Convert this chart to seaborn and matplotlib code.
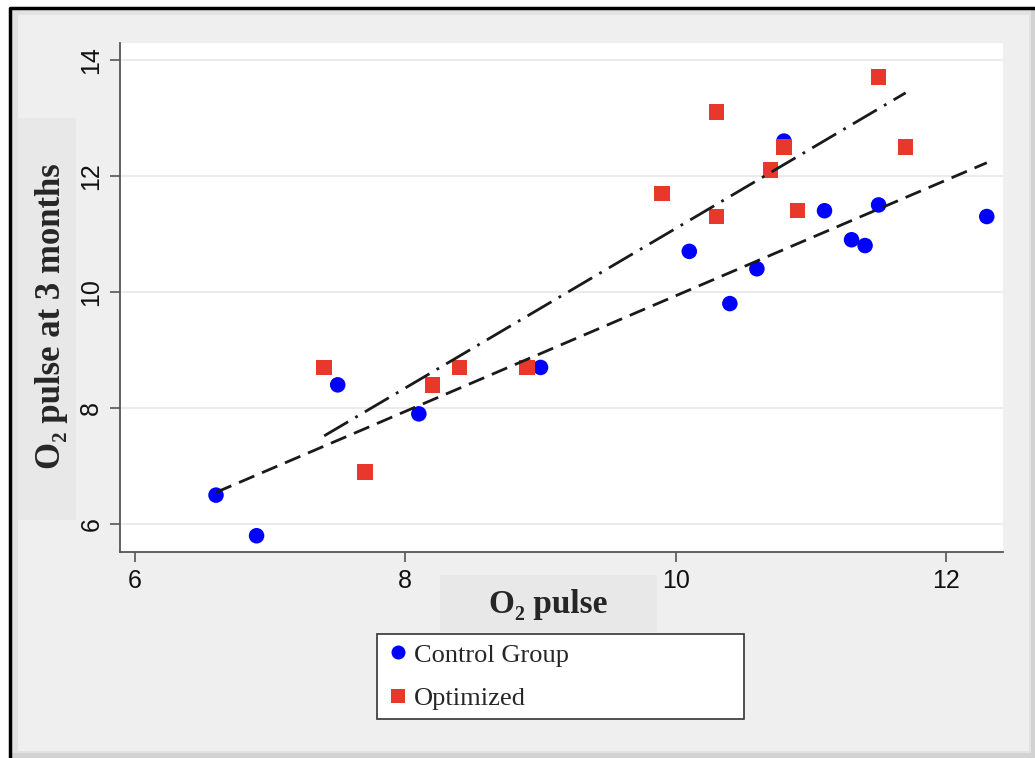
import numpy as np
import pandas as pd
import matplotlib.pyplot as plt
import seaborn as sns
from matplotlib.patches import Rectangle
from matplotlib.lines import Line2D

# Data
control_x = [6.6, 6.9, 7.5, 8.1, 9.0, 10.1, 10.4, 10.6, 10.8, 11.1, 11.3, 11.4, 11.5, 12.3]
control_y = [6.5, 5.8, 8.4, 7.9, 8.7, 10.7, 9.8, 10.4, 12.6, 11.4, 10.9, 10.8, 11.5, 11.3]
optim_x = [7.4, 7.7, 8.2, 8.4, 8.9, 9.9, 10.3, 10.3, 10.7, 10.8, 10.9, 11.5, 11.7]
optim_y = [8.7, 6.9, 8.4, 8.7, 8.7, 11.7, 13.1, 11.3, 12.1, 12.5, 11.4, 13.7, 12.5]
groups = ["Control Group", "Optimized"]
x_ticks = [6, 8, 10, 12]
y_ticks = [6, 8, 10, 12, 14]

df = pd.DataFrame({
    "x": control_x + optim_x,
    "y": control_y + optim_y,
    "group": [groups[0]] * len(control_x) + [groups[1]] * len(optim_x),
})

sns.set_style("white")
plt.rcParams['font.family'] = ['Liberation Sans', 'DejaVu Sans']

W, H = 1035, 758
fig = plt.figure(figsize=(W / 100, H / 100), dpi=100)
fig.patch.set_facecolor("white")

def px(x0, y0, x1, y1):
    # figure-pixel box (top-left origin) -> figure fraction
    return (x0 / W, 1 - y1 / H, (x1 - x0) / W, (y1 - y0) / H)

def add_box(x0, y0, x1, y1, color, z):
    b = px(x0, y0, x1, y1)
    fig.patches.append(Rectangle(b[:2], b[2], b[3], transform=fig.transFigure,
                                 facecolor=color, edgecolor="none", zorder=z))

# frame with shadow and gray panel
add_box(10, 8, 1035, 758, "#d2d2d2", -6)
add_box(12, 10, 1031, 753, "#e2e2e2", -5)
add_box(18, 15, 1029, 751, "#efefef", -4)
add_box(18, 118, 76, 520, "#e8e8e8", -3)
add_box(440, 575, 657, 632, "#e8e8e8", -3)
fig.lines.append(Line2D([10 / W, 10 / W, 1], [0, 1 - 8 / H, 1 - 8 / H],
                        transform=fig.transFigure, color="black", lw=2.5))

ax = fig.add_axes(px(120, 43, 1003, 552))
ax.set_facecolor("white")

sns.scatterplot(data=df, x="x", y="y", hue="group", style="group",
                palette={groups[0]: "#0000ff", groups[1]: "#e8382b"},
                markers={groups[0]: "o", groups[1]: "s"},
                s=125, linewidth=0, ax=ax, zorder=3)

sns.regplot(x=control_x, y=control_y, scatter=False, ci=None, truncate=True, ax=ax,
            line_kws=dict(color="#1a1a1a", lw=2, dashes=(6, 3), zorder=4))
sns.regplot(x=optim_x, y=optim_y, scatter=False, ci=None, truncate=True, ax=ax,
            line_kws=dict(color="#1a1a1a", lw=2, dashes=(10, 3, 1, 3), zorder=4))

ax.set_xlim(5.89, 12.42)
ax.set_ylim(5.52, 14.29)
ax.set_xticks(x_ticks)
ax.set_yticks(y_ticks)
ax.yaxis.grid(True, color="#ebebeb", lw=1.5)
ax.set_axisbelow(True)
for side in ["top", "right"]:
    ax.spines[side].set_visible(False)
for side in ["left", "bottom"]:
    ax.spines[side].set_color("#555555")
    ax.spines[side].set_linewidth(1.3)
ax.tick_params(axis="both", direction="out", length=7, width=1.2, color="#555555",
               labelsize=18, labelcolor="#111111", pad=5, left=True, bottom=True)
ax.tick_params(axis="y", labelrotation=90)
for t in ax.get_yticklabels():
    t.set_va("center")
ax.set_xlabel("")
ax.set_ylabel("")

serif = ['Liberation Serif', 'DejaVu Serif']
fig.text(52 / W, 1 - 316 / H, "O₂ pulse at 3 months", rotation=90, ha="center", va="center",
         fontsize=25, fontweight="bold", family=serif)
fig.text(548 / W, 1 - 604 / H, "O₂ pulse", ha="center", va="center",
         fontsize=24, fontweight="bold", family=serif)

handles, labels = ax.get_legend_handles_labels()
ax.legend(handles, labels, loc="upper left", bbox_to_anchor=px(377, 634, 744, 718),
          bbox_transform=fig.transFigure, mode="expand", frameon=True, fancybox=False,
          edgecolor="#333333", framealpha=1, prop=dict(family=serif, size=19),
          handletextpad=0.15, handlelength=0.9, labelspacing=0.75, borderpad=0.35,
          borderaxespad=0, markerscale=0.9)
ax.get_legend().get_frame().set_linewidth(1.2)

fig.savefig("out.png", dpi=100)
